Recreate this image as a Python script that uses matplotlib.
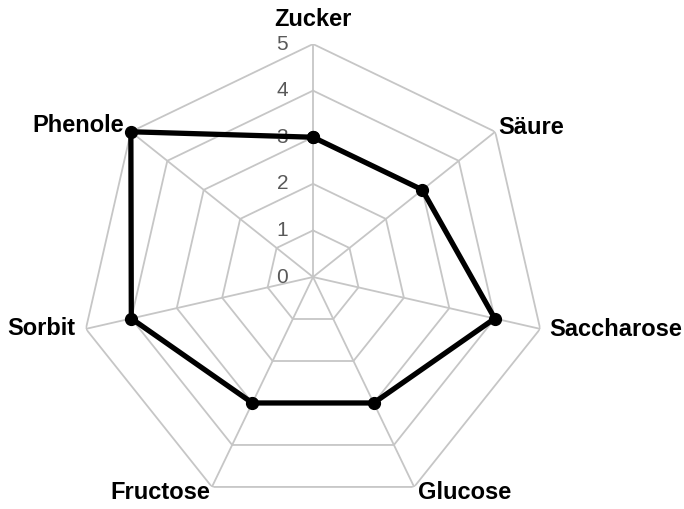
#!/usr/bin/env python3
"""Radar chart of sensory/chemical attributes."""

import numpy as np
import matplotlib
matplotlib.use("Agg")
import matplotlib.pyplot as plt

categories = ["Zucker", "Säure", "Saccharose", "Glucose", "Fructose", "Sorbit", "Phenole"]
values = [3, 3, 4, 3, 3, 4, 5]
ticks = [0, 1, 2, 3, 4, 5]

# label offsets from the outer vertex, in pixels (dx, dy, ha)
label_offsets = [(0, 25, "center"), (3, 4, "left"), (9, -1, "left"), (4, -6, "left"),
                 (-2, -6, "right"), (-10, 0, "right"), (-7, 6, "right")]

GRID = "#c6c6c6"


def main():
    plt.rcParams["font.family"] = ["Liberation Sans", "DejaVu Sans"]
    fig = plt.figure(figsize=(6.84, 5.09), dpi=100)
    ax = fig.add_axes([0.117, -0.002, 0.6813, 0.9155], projection="polar")
    ax.set_theta_zero_location("N")
    ax.set_theta_direction(-1)

    n = len(categories)
    angles = np.linspace(0, 2 * np.pi, n, endpoint=False)
    closed = np.append(angles, angles[0])

    ax.grid(False)
    ax.spines["polar"].set_visible(False)
    ax.set_xticks([])
    ax.set_yticks([])
    ax.set_ylim(0, 5)

    # polygon grid rings and spokes
    for t in ticks[1:]:
        ax.plot(closed, [t] * (n + 1), color=GRID, lw=1.3, zorder=1)
    for a in angles:
        ax.plot([a, a], [0, 5], color=GRID, lw=1.3, zorder=1)

    # tick labels along the top spoke
    for t in ticks:
        ax.annotate(str(t), xy=(0, t), xytext=(-25, 0), textcoords="offset pixels",
                    ha="right", va="center", fontsize=15, color="#595959")

    vals = values + values[:1]
    ax.plot(closed, vals, color="black", lw=3.8, marker="o", markersize=8.5,
            zorder=3, clip_on=False)

    for a, name, (dx, dy, ha) in zip(angles, categories, label_offsets):
        ax.annotate(name, xy=(a, 5), xytext=(dx, dy), textcoords="offset pixels",
                    ha=ha, va="center", fontsize=17, fontweight="bold", color="black",
                    annotation_clip=False)

    fig.savefig("out.png", dpi=100)


if __name__ == "__main__":
    main()
